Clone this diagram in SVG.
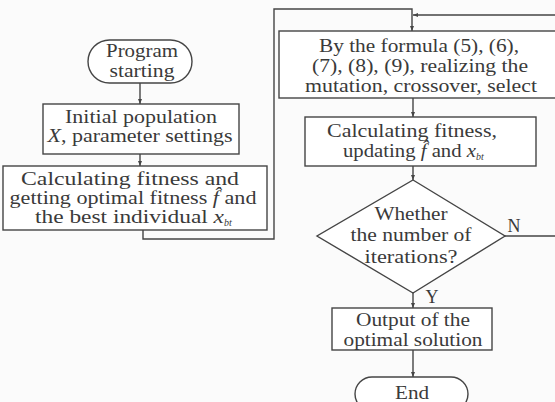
<svg xmlns="http://www.w3.org/2000/svg" width="555" height="402" viewBox="0 0 555 402">
<defs>
<marker id="ah" viewBox="0 0 10 10" refX="10" refY="5" markerWidth="5" markerHeight="5" orient="auto" markerUnits="userSpaceOnUse">
<path d="M0,1 L10,5 L0,9 Z" fill="#454545"/>
</marker>
<style>
.s{fill:none;stroke:#454545;stroke-width:1.4}
.n{fill:#fff;stroke:#454545;stroke-width:1.4}
.t{font-family:"Liberation Serif","Times New Roman",serif;font-size:18px;fill:#3a3a3a;text-anchor:middle}
.i{font-style:italic}
.sub{font-family:"Liberation Serif","Times New Roman",serif;font-size:10px;font-style:italic;fill:#3a3a3a;text-anchor:start}
</style>
</defs>
<rect x="0" y="0" width="555" height="402" fill="#fbfbfb"/>
<g id="connectors" class="s">
<line x1="140" y1="83" x2="140" y2="104" marker-end="url(#ah)"/>
<line x1="140" y1="154" x2="140" y2="166" marker-end="url(#ah)"/>
<polyline points="143,230 143,239 274,239 274,9 412,9 412,31" marker-end="url(#ah)"/>
<polyline points="560,236 560,15 413,15" marker-end="url(#ah)"/>
<line x1="413" y1="98" x2="413" y2="117" marker-end="url(#ah)"/>
<line x1="413" y1="166" x2="413" y2="180" marker-end="url(#ah)"/>
<line x1="505" y1="236" x2="560" y2="236"/>
<line x1="413" y1="293" x2="413" y2="308" marker-end="url(#ah)"/>
<line x1="413" y1="350" x2="413" y2="377" marker-end="url(#ah)"/>
</g>
<g id="start">
<rect class="n" x="88" y="40" width="104" height="43" rx="21.5"/>
<text class="t" x="142" y="57" textLength="72" lengthAdjust="spacingAndGlyphs">Program</text>
<text class="t" x="142" y="77" textLength="65" lengthAdjust="spacingAndGlyphs">starting</text>
</g>
<g id="init">
<rect class="n" x="43" y="104" width="196" height="50"/>
<text class="t" x="141" y="123" textLength="152" lengthAdjust="spacingAndGlyphs">Initial population</text>
<text class="t" x="140" y="142" textLength="185" lengthAdjust="spacingAndGlyphs"><tspan class="i">X</tspan>, parameter settings</text>
</g>
<g id="calc1">
<rect class="n" x="3" y="166" width="264" height="64"/>
<text class="t" x="130" y="185" textLength="218" lengthAdjust="spacingAndGlyphs">Calculating fitness and</text>
<text class="t" x="133" y="204" textLength="247" lengthAdjust="spacingAndGlyphs">getting optimal fitness <tspan class="i">f̂</tspan> and</text>
<text class="t" x="129.5" y="223" textLength="189" lengthAdjust="spacingAndGlyphs">the best individual <tspan class="i">x</tspan></text>
<text class="sub" x="224" y="226">bt</text>
</g>
<g id="formula">
<rect class="n" x="279" y="31" width="290" height="67"/>
<text class="t" x="419" y="52" textLength="200" lengthAdjust="spacingAndGlyphs">By the formula (5), (6),</text>
<text class="t" x="420" y="72" textLength="216" lengthAdjust="spacingAndGlyphs">(7), (8), (9), realizing the</text>
<text class="t" x="421" y="92" textLength="232" lengthAdjust="spacingAndGlyphs">mutation, crossover, select</text>
</g>
<g id="calc2">
<rect class="n" x="305" y="117" width="231" height="49"/>
<text class="t" x="412" y="137" textLength="170" lengthAdjust="spacingAndGlyphs">Calculating fitness,</text>
<text class="t" x="409.5" y="157" textLength="133" lengthAdjust="spacingAndGlyphs">updating <tspan class="i">f̂</tspan> and <tspan class="i">x</tspan></text>
<text class="sub" x="476" y="160">bt</text>
</g>
<g id="decision">
<polygon class="n" points="413,180 505,236 413,293 317,236"/>
<text class="t" x="411" y="220" textLength="73" lengthAdjust="spacingAndGlyphs">Whether</text>
<text class="t" x="411" y="241" textLength="121" lengthAdjust="spacingAndGlyphs">the number of</text>
<text class="t" x="411" y="263" textLength="93" lengthAdjust="spacingAndGlyphs">iterations?</text>
<text class="t" x="514" y="232">N</text>
<text class="t" x="432" y="303">Y</text>
</g>
<g id="output">
<rect class="n" x="332" y="308" width="160" height="42"/>
<text class="t" x="413" y="326" textLength="114" lengthAdjust="spacingAndGlyphs">Output of the</text>
<text class="t" x="413" y="346" textLength="139" lengthAdjust="spacingAndGlyphs">optimal solution</text>
</g>
<g id="end">
<rect class="n" x="355" y="377" width="113" height="34" rx="17"/>
<text class="t" x="412" y="399" textLength="34" lengthAdjust="spacingAndGlyphs">End</text>
</g>
</svg>
